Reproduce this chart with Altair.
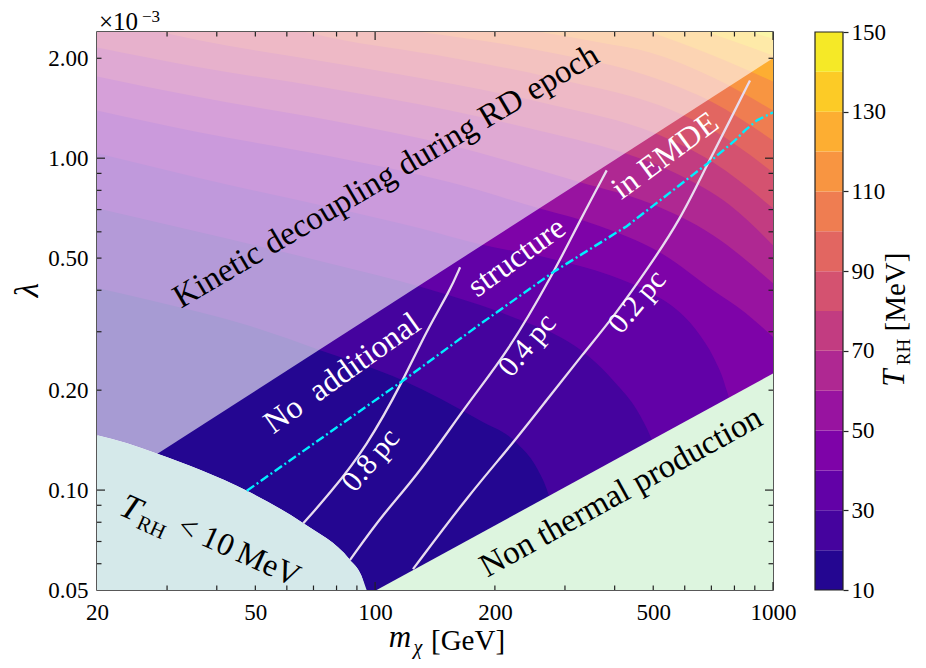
import altair as alt
import pandas as pd

FONT = "Liberation Serif"
PW, PH = 676, 558

# ---------------- axes ----------------
X_DOMAIN = [20, 1000]
Y_DOMAIN = [0.05, 2.4]
X_LABELS = [20, 50, 100, 200, 500, 1000]
Y_LABELS = [0.05, 0.1, 0.2, 0.5, 1.0, 2.0]
X_MAJOR_TICKS = [100, 1000]
X_MINOR_TICKS = [30, 40, 50, 60, 70, 80, 90, 200, 300, 400, 500, 600, 700, 800, 900]
Y_MAJOR_TICKS = [0.1, 1.0]
Y_MINOR_TICKS = [0.06, 0.07, 0.08, 0.09, 0.2, 0.3, 0.4, 0.5, 0.6, 0.7, 0.8, 0.9, 2.0]

# ---------------- colour bands (T_RH in MeV) ----------------
LEVELS = [10, 20, 30, 40, 50, 60, 70, 80, 90, 100, 110, 120, 130, 140]
LEVEL_TOPS = [20, 30, 40, 50, 60, 70, 80, 90, 100, 110, 120, 130, 140, 150]
BAND_MID = [15, 25, 35, 45, 55, 65, 75, 85, 95, 105, 115, 125, 135, 145]
CB_TICKS = [10, 30, 50, 70, 90, 110, 130, 150]

# contour lines T_RH = level (m in GeV, lambda in 1e-3)
C10_M = [20, 23.8, 28.25, 47.6, 66.0, 86.5, 92.2, 95.2, 1000]
C10_L = [0.1464, 0.1385, 0.129, 0.0995, 0.0794, 0.0616, 0.0555, 0.05, 0.05]
C20_M = [20, 27.2, 48.5, 72.7, 117.5, 183.5, 227.2, 256.8, 272, 283.2, 291.6, 293.2, 1000]
C20_L = [0.406, 0.373, 0.312, 0.264, 0.214, 0.162, 0.1385, 0.1148, 0.098, 0.0812, 0.0616, 0.05, 0.05]
C30_M = [20, 36.3, 77.0, 131.9, 183.5, 235.4, 291.6, 346.8, 400.8, 455.2, 496.6, 526.0, 544.6, 554.2, 1000]
C30_L = [0.706, 0.598, 0.482, 0.408, 0.361, 0.323, 0.289, 0.251, 0.211, 0.174, 0.141, 0.1148, 0.0871, 0.05, 0.05]
C40_M = [20, 36.3, 77.0, 129.7, 183.5, 275.2, 389.4, 490.8, 583.8, 655.4, 715.0, 757.6, 784.2, 798.0, 802.6, 1000]
C40_L = [1.034, 0.870, 0.711, 0.615, 0.550, 0.499, 0.444, 0.394, 0.343, 0.293, 0.246, 0.207, 0.174, 0.1148, 0.05, 0.05]
C50_M = [20, 36.3, 77.0, 154.3, 258.2, 367.5, 520.0, 706.8, 850.4, 1000]
C50_L = [1.393, 1.196, 1.013, 0.846, 0.706, 0.624, 0.520, 0.400, 0.343, 0.289]
C60_M = [20, 36.3, 77.0, 154.3, 327.3, 490.8, 706.8, 1000]
C60_L = [1.764, 1.525, 1.300, 1.093, 0.846, 0.731, 0.586, 0.420]
C70_M = [20, 36.3, 77.0, 154.3, 275.2, 424.6, 583.8, 779.8, 1000]
C70_L = [2.156, 1.877, 1.623, 1.393, 1.188, 1.034, 0.888, 0.721, 0.547]
C80_M = [28.8, 36.3, 77.0, 154.3, 275.2, 505.2, 706.8, 1000]
C80_L = [2.4, 2.263, 1.943, 1.680, 1.452, 1.188, 0.972, 0.706]
C90_M = [66.7, 77.0, 154.3, 275.2, 597.4, 706.8, 1000]
C90_L = [2.4, 2.310, 2.012, 1.751, 1.345, 1.213, 0.906]
C100_M = [129.7, 275.2, 490.8, 706.8, 1000]
C100_L = [2.4, 2.083, 1.764, 1.472, 1.131]
C110_M = [259.7, 367.5, 490.8, 706.8, 1000]
C110_L = [2.4, 2.232, 2.083, 1.751, 1.393]
C120_M = [490.8, 706.8, 1000]
C120_L = [2.4, 2.040, 1.703]
C130_M = [682.6, 826.0, 1000]
C130_L = [2.4, 2.216, 2.040]
C140_M = [875.4, 1000]
C140_L = [2.4, 2.294]

# region boundaries
KD_M = [20, 1000]          # kinetic decoupling during RD (faded above)
KD_L = [0.0983, 2.0]
NT_M = [100.9, 1000]       # non thermal production (below)
NT_L = [0.05, 0.2245]

# structure-size lines
PC08_M = [66.0, 77.0, 95.2, 117.7, 134.8, 154.3, 163.5]
PC08_L = [0.0794, 0.0978, 0.135, 0.214, 0.303, 0.400, 0.469]
PC04_M = [86.5, 104.9, 127.2, 173.2, 214.3, 280.5, 327.3, 382.0]
PC04_L = [0.0616, 0.0851, 0.1097, 0.187, 0.258, 0.449, 0.650, 0.919]
PC02_M = [124.5, 173.2, 218.3, 270.0, 333.6, 397.0, 481.4, 583.8, 685.2, 779.8, 875.4]
PC02_L = [0.0578, 0.0978, 0.135, 0.187, 0.258, 0.332, 0.460, 0.650, 0.965, 1.300, 1.715]

# cyan dash-dot line
DD_M = [47.6, 77.0, 117.7, 183.5, 280.5, 429.0, 685.2, 802.6, 850.4, 911.6, 1000]
DD_L = [0.0995, 0.1494, 0.214, 0.316, 0.454, 0.624, 0.965, 1.131, 1.213, 1.300, 1.374]

# in-plot annotations
ANN_TEXT = ["Kinetic decoupling during RD epoch", "No\u2002additional", "structure", "in EMDE",
            "0.8\u2009pc", "0.4\u2009pc", "0.2\u2009pc", "Non thermal production",
            "T", "RH", "< 10\u2009MeV"]
ANN_M = [106.5, 82.6, 226.9, 535.4, 97.6, 241.3, 456.0, 415.0, 24.35, 27.34, 45.5]
ANN_L = [0.882, 0.225, 0.504, 1.019, 0.123, 0.273, 0.369, 0.0986, 0.0883, 0.0769, 0.0655]
ANN_ANGLE = [329.5, 324.5, 324, 323.5, 310, 310, 310, 331, 24.4, 24.4, 24.4]
ANN_SIZE = [33, 32, 32, 32, 30, 30, 30, 33, 35, 21, 32]
ANN_COLOR = ["black", "white", "white", "white", "white", "white", "white", "black", "black", "black", "black"]
ANN_STYLE = ["normal"] * 8 + ["italic", "normal", "normal"]

CYAN_FILL = "#d5e9ea"
GREEN_FILL = "#ddf5df"
LINE_COL = "#e8dcef"
DASH_COL = "#00eeff"
FRAME = "#222222"

# ---------------- encodings ----------------
xs = alt.Scale(type="log", domain=X_DOMAIN, nice=False)
ys = alt.Scale(type="log", domain=Y_DOMAIN, nice=False)
x_axis = alt.Axis(values=X_LABELS, format="d", ticks=False, domain=False, grid=False,
                  labelFont=FONT, labelFontSize=23, labelColor="black", labelPadding=11,
                  labelFlush=False, labelOverlap=False, title=None)
y_axis = alt.Axis(values=Y_LABELS, format=".2f", ticks=False, domain=False, grid=False,
                  labelFont=FONT, labelFontSize=23, labelColor="black", labelPadding=9,
                  labelFlush=False, labelOverlap=False, title=None)


def X():
    return alt.X("m:Q", scale=xs, axis=x_axis)


def Y():
    return alt.Y("lam:Q", scale=ys, axis=y_axis)


color_enc = alt.Color("mid:Q", scale=alt.Scale(scheme="plasma", domain=[10, 150]), legend=None)

CONTOURS = [(C10_M, C10_L), (C20_M, C20_L), (C30_M, C30_L), (C40_M, C40_L), (C50_M, C50_L),
            (C60_M, C60_L), (C70_M, C70_L), (C80_M, C80_L), (C90_M, C90_L), (C100_M, C100_L),
            (C110_M, C110_L), (C120_M, C120_L), (C130_M, C130_L), (C140_M, C140_L)]

layers = []
for (ms, ls), mid in zip(CONTOURS, BAND_MID):
    df = pd.DataFrame({"m": ms, "lam": ls})
    df["top"] = Y_DOMAIN[1]
    df["mid"] = mid
    layers.append(alt.Chart(df).mark_area(interpolate="monotone", clip=True)
                  .encode(x=X(), y=Y(), y2="top:Q", color=color_enc))

# faded region (kinetic decoupling in RD)
ov = pd.DataFrame({"m": KD_M, "lam": KD_L})
ov["top"] = Y_DOMAIN[1]
layers.append(alt.Chart(ov).mark_area(color="white", opacity=0.6, clip=True)
              .encode(x=X(), y=Y(), y2="top:Q"))

# T_RH < 10 MeV region
cy = pd.DataFrame({"m": C10_M[:-1], "lam": C10_L[:-1]})
cy["bot"] = Y_DOMAIN[0]
layers.append(alt.Chart(cy).mark_area(color=CYAN_FILL, interpolate="monotone", clip=True)
              .encode(x=X(), y=Y(), y2="bot:Q"))

# non thermal production region
gr = pd.DataFrame({"m": NT_M, "lam": NT_L})
gr["bot"] = Y_DOMAIN[0]
layers.append(alt.Chart(gr).mark_area(color=GREEN_FILL, clip=True)
              .encode(x=X(), y=Y(), y2="bot:Q"))

# structure lines
for ms, ls in [(PC08_M, PC08_L), (PC04_M, PC04_L), (PC02_M, PC02_L)]:
    df = pd.DataFrame({"m": ms, "lam": ls})
    layers.append(alt.Chart(df).mark_line(color=LINE_COL, strokeWidth=2.3, interpolate="basis", clip=True)
                  .encode(x=X(), y=Y()))

dd = pd.DataFrame({"m": DD_M, "lam": DD_L})
layers.append(alt.Chart(dd).mark_line(color=DASH_COL, strokeWidth=2.4, strokeDash=[9, 3, 2, 3], clip=True)
              .encode(x=X(), y=Y()))

# annotations
for t, m, l, a, s, c, st in zip(ANN_TEXT, ANN_M, ANN_L, ANN_ANGLE, ANN_SIZE, ANN_COLOR, ANN_STYLE):
    df = pd.DataFrame({"m": [m], "lam": [l], "t": [t]})
    layers.append(alt.Chart(df).mark_text(angle=a, fontSize=s, font=FONT, color=c, fontStyle=st,
                                          align="center", baseline="middle")
                  .encode(x=X(), y=Y(), text="t:N"))

# inward ticks on all four sides
for vals, ln in [(X_MAJOR_TICKS, 8), (X_MINOR_TICKS, 4.5)]:
    df = pd.DataFrame({"m": vals})
    layers.append(alt.Chart(df).mark_rule(color=FRAME, strokeWidth=1.2)
                  .encode(x=X(), y=alt.value(PH), y2=alt.value(PH - ln)))
    layers.append(alt.Chart(df).mark_rule(color=FRAME, strokeWidth=1.2)
                  .encode(x=X(), y=alt.value(0), y2=alt.value(ln)))
for vals, ln in [(Y_MAJOR_TICKS, 8), (Y_MINOR_TICKS, 4.5)]:
    df = pd.DataFrame({"lam": vals})
    layers.append(alt.Chart(df).mark_rule(color=FRAME, strokeWidth=1.2)
                  .encode(y=Y(), x=alt.value(0), x2=alt.value(ln)))
    layers.append(alt.Chart(df).mark_rule(color=FRAME, strokeWidth=1.2)
                  .encode(y=Y(), x=alt.value(PW), x2=alt.value(PW - ln)))


def ptext(t, px, py, size, angle=0, style="normal", align="center", baseline="middle"):
    df = pd.DataFrame({"t": [t]})
    return (alt.Chart(df).mark_text(fontSize=size, font=FONT, color="black", angle=angle, fontStyle=style,
                                    align=align, baseline=baseline)
            .encode(x=alt.value(px), y=alt.value(py), text="t:N"))


# axis titles and exponent
layers.append(ptext("\u03bb", -69, 258, 33, angle=270, style="italic"))
layers.append(ptext("m", 303, 606, 31, style="italic"))
layers.append(ptext("\u03c7", 321, 616, 20, style="italic"))
layers.append(ptext("[GeV]", 371, 609, 29))
layers.append(ptext("\u00d710", 2, -2, 25, align="left", baseline="alphabetic"))
layers.append(ptext("\u22123", 45, -10, 17, align="left", baseline="alphabetic"))

main = alt.layer(*layers)

# ---------------- colour bar ----------------
cb = pd.DataFrame({"lo": LEVELS, "hi": LEVEL_TOPS, "mid": BAND_MID})
cb_y = alt.Y("lo:Q", scale=alt.Scale(domain=[10, 150], nice=False, zero=False),
             axis=alt.Axis(values=CB_TICKS, orient="right", offset=70, format="d", tickSize=5,
                           tickColor=FRAME, tickWidth=1.2, domain=False, grid=False,
                           labelFont=FONT, labelFontSize=23, labelColor="black", labelPadding=3,
                           labelFlush=False, labelOverlap=False, title=None))
cb_rect = (alt.Chart(cb).mark_rect()
           .encode(x=alt.value(718), x2=alt.value(746), y=cb_y, y2="hi:Q", color=color_enc))
cb_frame = (alt.Chart(pd.DataFrame({"lo": [LEVELS[0]], "hi": [LEVEL_TOPS[-1]]}))
            .mark_rect(fillOpacity=0, stroke=FRAME, strokeWidth=1.2)
            .encode(x=alt.value(718), x2=alt.value(746), y=cb_y, y2="hi:Q"))
cbar = alt.layer(cb_rect, cb_frame,
                 ptext("T", 798, 346, 31, angle=270, style="italic"),
                 ptext("RH", 807, 320, 19, angle=270),
                 ptext("[MeV]", 799, 260, 29, angle=270))

chart = (alt.layer(main, cbar)
         .resolve_scale(y="independent")
         .properties(width=PW, height=PH,
                     autosize=alt.AutoSizeParams(type="none"),
                     padding={"left": 89, "top": 24, "right": 145, "bottom": 70})
         .configure_view(stroke=FRAME, strokeWidth=1.5))

chart.save("out.html", embed_options={"renderer": "svg", "actions": False})
